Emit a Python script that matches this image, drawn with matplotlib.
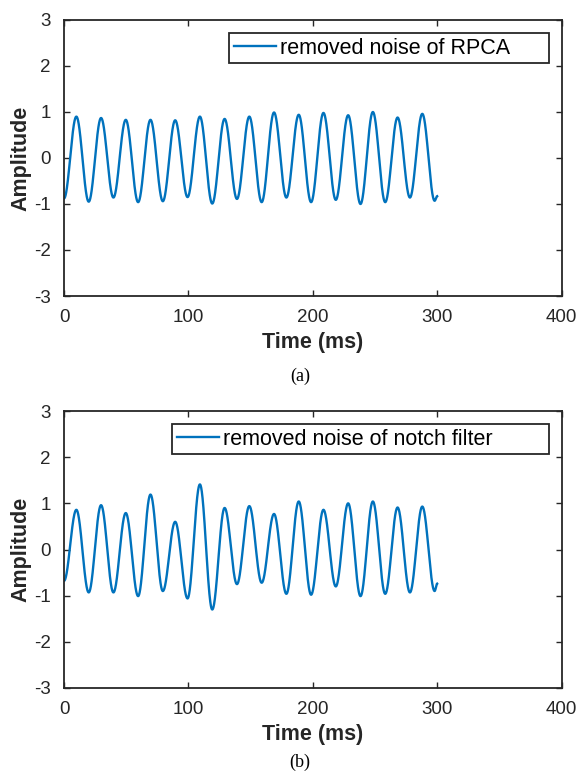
import numpy as np
import matplotlib.pyplot as plt

plt.rcParams['font.family'] = ['Liberation Sans', 'DejaVu Sans']
plt.rcParams['axes.unicode_minus'] = False

# time between a trough and the following peak (ms)
half_period = 298 / 30
t_end = 300

# (a) removed noise of RPCA: troughs at 0, 20, ..., 300 ms, peaks at 10, 30, ..., 290 ms
rpca_troughs = [-0.88, -0.95, -0.86, -0.96, -0.94, -0.85, -0.99, -0.89,
                -0.96, -0.86, -0.96, -0.91, -1.00, -0.96, -0.86, -0.93]
rpca_peaks = [0.90, 0.87, 0.83, 0.83, 0.82, 0.90, 0.85, 0.90,
              0.99, 0.94, 0.98, 0.93, 1.00, 0.88, 0.96]
rpca_last = -0.83

# (b) removed noise of notch filter
notch_troughs = [-0.68, -0.93, -0.93, -1.01, -0.90, -1.06, -1.30, -0.75,
                 -0.72, -0.96, -0.98, -0.80, -1.01, -0.96, -0.93, -0.90]
notch_peaks = [0.86, 0.96, 0.79, 1.19, 0.60, 1.41, 0.90, 0.94,
               0.77, 1.04, 0.86, 1.00, 1.04, 0.91, 0.93]
notch_last = -0.74

labels = ["removed noise of RPCA", "removed noise of notch filter"]
captions = ["(a)", "(b)"]


def waveform(troughs, peaks, last):
    # join the read extrema with half-cosine segments
    vals = []
    for i in range(len(peaks)):
        vals += [troughs[i], peaks[i]]
    vals.append(troughs[-1])
    kt = list(np.arange(len(vals)) * half_period) + [t_end]
    vals.append(last)
    kt = np.array(kt)
    vals = np.array(vals)
    t = np.linspace(0, t_end, 3001)
    idx = np.clip(np.searchsorted(kt, t, side='right') - 1, 0, len(kt) - 2)
    frac = (t - kt[idx]) / (kt[idx + 1] - kt[idx])
    y = vals[idx] + (vals[idx + 1] - vals[idx]) * (1 - np.cos(np.pi * frac)) / 2
    return t, y


fig = plt.figure(figsize=(5.77, 7.76), dpi=100)
ax1 = fig.add_axes([64 / 577, 1 - 296 / 776, 497.5 / 577, 276 / 776])
ax2 = fig.add_axes([64 / 577, 1 - 688 / 776, 497.5 / 577, 277 / 776])

series = [(rpca_troughs, rpca_peaks, rpca_last), (notch_troughs, notch_peaks, notch_last)]
# legend boxes (left, width) in axes fraction
leg_boxes = [(0.332, 0.643), (0.217, 0.758)]
cap_y = [1 - 376 / 776, 1 - 762 / 776]

for ax, s, lab, lb, cy, cap in zip([ax1, ax2], series, labels, leg_boxes, cap_y, captions):
    t, y = waveform(*s)
    ax.plot(t, y, color='#0072BD', lw=1.7, label=lab)
    ax.set_xlim(0, 400)
    ax.set_ylim(-3, 3)
    ax.set_xticks([0, 100, 200, 300, 400])
    ax.set_yticks(range(-3, 4))
    ax.tick_params(direction='in', top=True, right=True, length=4, width=1,
                   colors='#262626', labelsize=13.5, pad=9.5)
    for sp in ax.spines.values():
        sp.set_color('#262626')
        sp.set_linewidth(1.3)
    ax.set_xlabel("Time (ms)", fontsize=15.5, fontweight='bold', color='#262626', labelpad=4)
    ax.set_ylabel("Amplitude", fontsize=15.5, fontweight='bold', color='#262626', labelpad=2)
    leg = ax.legend(loc='upper left', bbox_to_anchor=(lb[0], 0.953, lb[1], 0), mode='expand',
                    fontsize=15.5, fancybox=False, edgecolor='#262626', framealpha=1,
                    handlelength=1.95, handletextpad=0.2, borderpad=0.22, borderaxespad=0)
    leg.get_frame().set_linewidth(1.3)
    fig.text(300 / 577, cy, cap, ha='center', va='center',
             fontsize=13, family=['Liberation Serif'])

fig.savefig('out.png', dpi=100)
